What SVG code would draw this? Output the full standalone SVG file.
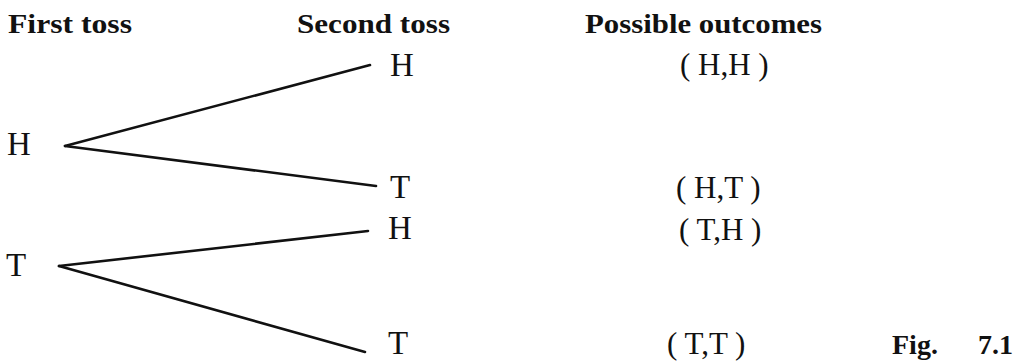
<svg xmlns="http://www.w3.org/2000/svg" width="1023" height="362" viewBox="0 0 1023 362">
<style>
.hd{font-family:"Liberation Serif","Times New Roman",serif;font-weight:bold;font-size:28px;fill:#111}
.lb{font-family:"Liberation Serif","Times New Roman",serif;font-size:33px;fill:#111}
.oc{font-family:"Liberation Serif","Times New Roman",serif;font-size:31px;fill:#111}
.br{stroke:#111;stroke-width:2.6;fill:none;stroke-linecap:round}
</style>
<rect width="1023" height="362" fill="#fff"/>
<g id="headers">
<text class="hd" x="8" y="33" textLength="124" lengthAdjust="spacingAndGlyphs">First toss</text>
<text class="hd" x="297" y="33" textLength="153" lengthAdjust="spacingAndGlyphs">Second toss</text>
<text class="hd" x="585" y="33" textLength="237" lengthAdjust="spacingAndGlyphs">Possible outcomes</text>
</g>
<g id="first-H"><text class="lb" x="7" y="155">H</text></g>
<g id="first-T"><text class="lb" x="6" y="276">T</text></g>
<g id="second-H1"><text class="lb" x="390" y="76">H</text></g>
<g id="second-T1"><text class="lb" x="390" y="198">T</text></g>
<g id="second-H2"><text class="lb" x="388" y="239">H</text></g>
<g id="second-T2"><text class="lb" x="388" y="354">T</text></g>
<g id="outcome-HH"><text class="oc" x="680" y="75">( H,H )</text></g>
<g id="outcome-HT"><text class="oc" x="676" y="198">( H,T )</text></g>
<g id="outcome-TH"><text class="oc" x="679" y="240">( T,H )</text></g>
<g id="outcome-TT"><text class="oc" x="667" y="354">( T,T )</text></g>
<g id="caption">
<text class="hd" x="892" y="354">Fig.</text>
<text class="hd" x="978" y="354">7.1</text>
</g>
<g id="connectors">
<line class="br" x1="65" y1="146" x2="370" y2="65"/>
<line class="br" x1="65" y1="146" x2="376" y2="186"/>
<line class="br" x1="59" y1="266" x2="368" y2="231"/>
<line class="br" x1="59" y1="266" x2="365" y2="352"/>
</g>
</svg>
